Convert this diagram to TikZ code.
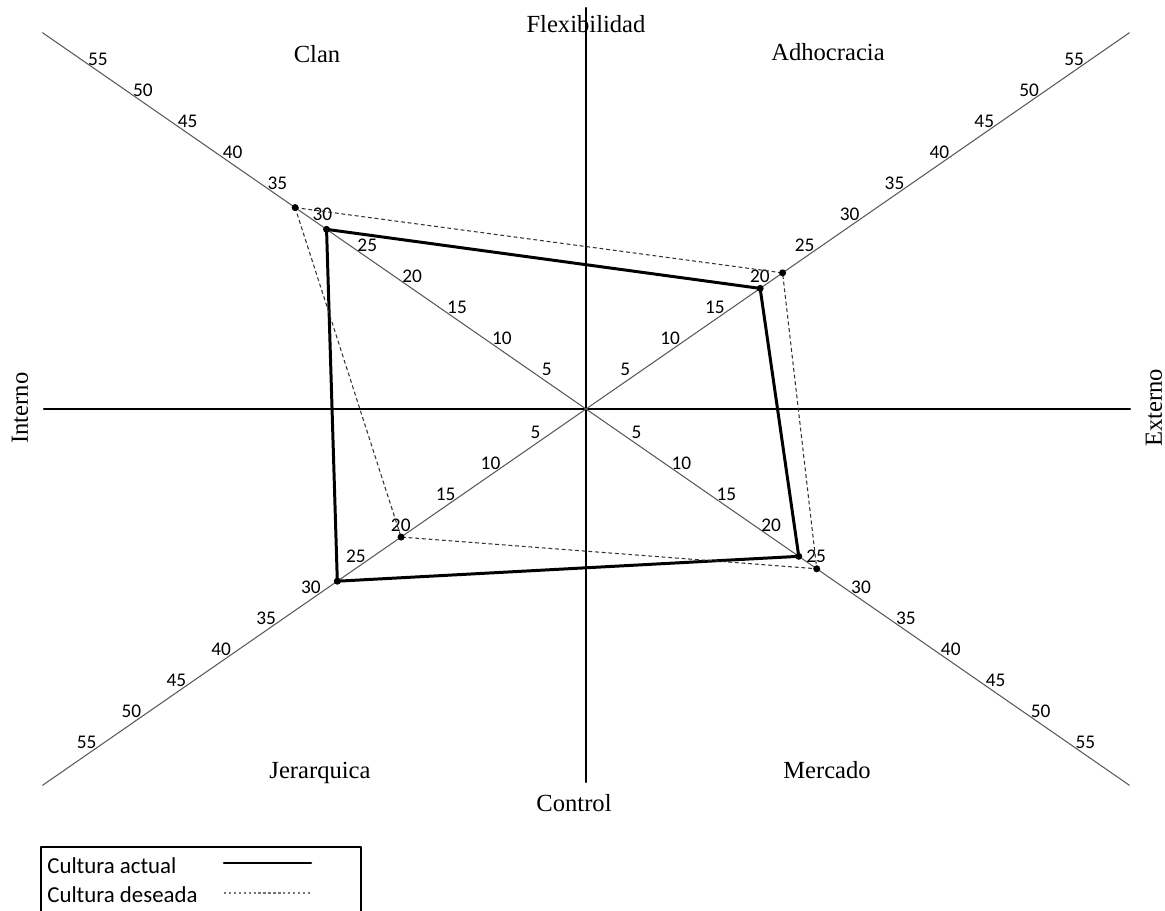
\documentclass[tikz,border=0pt]{standalone}
\usepackage{fontspec}
\setmainfont{Liberation Serif}
\newfontfamily\calibri{Carlito}
\usetikzlibrary{calc}

\begin{document}
\begin{tikzpicture}[line cap=round,line join=round,x=0.02cm,y=0.02cm,
    axis/.style={line width=1.3pt, black},
    diag/.style={line width=0.6pt, black!65},
    actual/.style={line width=1.7pt, black},
    deseada/.style={line width=0.6pt, black!80, line cap=butt, dash pattern=on 2.2pt off 1.6pt},
    quad/.style={font=\fontsize{14}{16}\selectfont, inner sep=0pt},
    tick/.style={font=\calibri\fontsize{11}{13}\selectfont, inner sep=0pt},
    leg/.style={font=\calibri\fontsize{13}{15}\selectfont, inner sep=0pt, anchor=west},
    dot/.style={circle, fill=black, inner sep=0pt, minimum size=4pt}]
                        \useasboundingbox (-586,-501) rectangle (579,409);

                        % ejes
                        \coordinate (top) at (0,401);
                        \coordinate (bottom) at (0,-373);
                        \coordinate (left) at (-542,0);
                        \coordinate (right) at (544,0);
                        \draw [axis] (top) -- (bottom);
                        \draw [axis] (left) -- (right);

                        % diagonales
                        \coordinate (ul) at (145.3:661);
                        \coordinate (ur) at (34.7:661);
                        \coordinate (ll) at (214.7:661);
                        \coordinate (lr) at (-34.7:661);
                        \draw [diag] (ul) -- (lr);
                        \draw [diag] (ur) -- (ll);

                        \foreach \v in {5,10,...,55} {
                            \node[tick] (ul\v) at ($(145.3:{\v*10.92})+(55.3:10)$) {\v};
                            \node[tick] (ur\v) at ($(34.7:{\v*10.92})+(124.7:10)$) {\v};
                            \node[tick] (lr\v) at ($(-34.7:{\v*10.92})+(55.3:10)$) {\v};
                            \node[tick] (ll\v) at ($(214.7:{\v*10.92})+(124.7:10)$) {\v};
                        }

                        % cultura actual
                        \coordinate (clanA) at (145.3:{28.9*10.92});
                        \coordinate (adhA) at (34.7:{19.4*10.92});
                        \coordinate (merA) at (-34.7:{23.7*10.92});
                        \coordinate (jerA) at (214.7:{27.7*10.92});
                        \draw [actual] (clanA) -- (adhA) -- (merA) -- (jerA) -- cycle;

                        % cultura deseada
                        \coordinate (clanD) at (145.3:{32.4*10.92});
                        \coordinate (adhD) at (34.7:{21.9*10.92});
                        \coordinate (merD) at (-34.7:{25.7*10.92});
                        \coordinate (jerD) at (214.7:{20.6*10.92});
                        \draw [deseada] (clanD) -- (adhD) -- (merD) -- (jerD) -- cycle;

                        \foreach \p in {clanA,adhA,merA,jerA,clanD,adhD,merD,jerD}
                            \node[dot] (\p-dot) at (\p) {};

                        \node[quad] (flex) at (0,385) {Flexibilidad};
                        \node[quad] (control) at (-12,-394) {Control};
                        \node[quad, rotate=90] (interno) at (-566,1) {Interno};
                        \node[quad, rotate=90] (externo) at (568,1) {Externo};
                        \node[quad] (clan) at (-269,355) {Clan};
                        \node[quad] (adhocracia) at (242,357) {Adhocracia};
                        \node[quad] (jerarquica) at (-266,-364) {Jerarquica};
                        \node[quad] (mercado) at (241,-361) {Mercado};

                        % leyenda
                        \node[leg] (legA) at (-539,-457) {Cultura actual};
                        \node[leg] (legD) at (-539,-486) {Cultura deseada};
                        \coordinate (legA1) at (-362,-454);
                        \coordinate (legA2) at (-275,-454);
                        \coordinate (legD1) at (-362,-484);
                        \coordinate (legD2) at (-275,-484);
                        \draw [line width=1.5pt] (legA1) -- (legA2);
                        \draw [line width=0.6pt, black!55, line cap=butt, dash pattern=on 1.4pt off 1.4pt] (legD1) -- (legD2);
                        \draw [line width=1.4pt, line cap=butt] (-545,-438) rectangle (-225,-504);
                    \end{tikzpicture}
\end{document}
